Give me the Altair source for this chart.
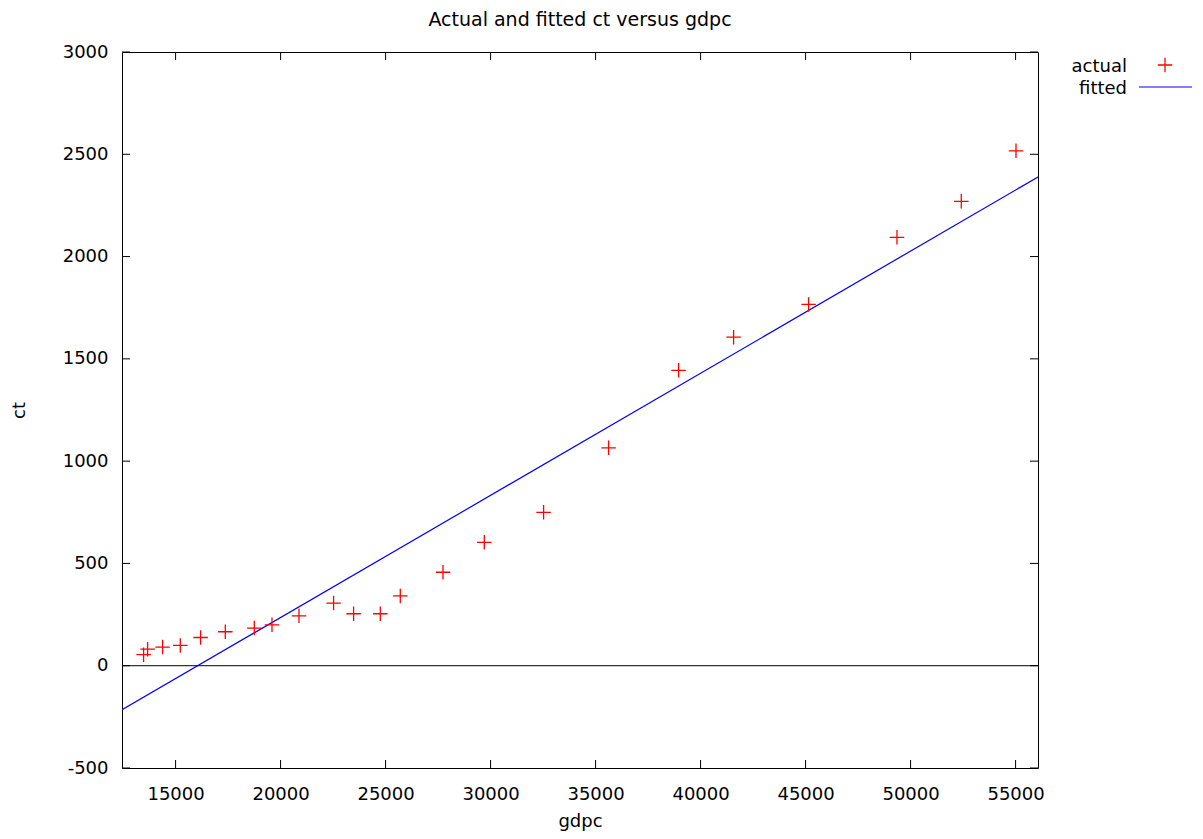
import altair as alt
import pandas as pd

# ---- data ----
gdpc = [13476, 13667, 14381, 15224, 16190, 17367, 18748, 19590, 20876, 22524, 23476,
        24748, 25700, 27733, 29700, 32524, 35619, 38952, 41571, 45143, 49352, 52414, 55019]
ct = [54, 81, 91, 99, 138, 166, 184, 200, 244, 306, 254,
      254, 341, 457, 603, 750, 1065, 1444, 1606, 1766, 2094, 2270, 2517]
fit_x = [12448, 56067]
fit_y = [-215, 2389]
x_ticks = [15000, 20000, 25000, 30000, 35000, 40000, 45000, 50000, 55000]
y_ticks = [-500, 0, 500, 1000, 1500, 2000, 2500, 3000]
x_domain = [12448, 56067]
y_domain = [-500, 3000]
legend_labels = ["actual", "fitted"]

W, H = 916, 716
FONT = "DejaVu Sans"
FS = 18
TL = 8  # inward tick length

xs = alt.Scale(domain=x_domain, nice=False, zero=False)
ys = alt.Scale(domain=y_domain, nice=False, zero=False)

pts = pd.DataFrame({"gdpc": gdpc, "ct": ct})
fit = pd.DataFrame({"gdpc": fit_x, "ct": fit_y})
xt = pd.DataFrame({"v": x_ticks})
yt = pd.DataFrame({"v": y_ticks})

plus = "M-1,0L1,0M0,-1L0,1"

xaxis = alt.Axis(values=x_ticks, ticks=False, domain=False, grid=False, labelPadding=17,
                 labelExpr="'' + datum.value",
                 labelFont=FONT, labelFontSize=FS, labelColor="black",
                 titleFont=FONT, titleFontSize=FS, titleFontWeight="normal", titleColor="black",
                 titleY=58, titleBaseline="alphabetic")
yaxis = alt.Axis(values=y_ticks, ticks=False, domain=False, grid=False, labelPadding=14,
                 labelExpr="'' + datum.value",
                 labelFont=FONT, labelFontSize=FS, labelColor="black",
                 titleFont=FONT, titleFontSize=FS, titleFontWeight="normal", titleColor="black",
                 titleX=-103, titleY=H / 2, titleBaseline="middle", titleAngle=-90)

base_axes = alt.Chart(pts).mark_point(opacity=0).encode(
    x=alt.X("gdpc:Q", scale=xs, axis=xaxis, title="gdpc"),
    y=alt.Y("ct:Q", scale=ys, axis=yaxis, title="ct"),
)

zero_line = alt.Chart(pd.DataFrame({"ct": [0]})).mark_rule(color="black", strokeWidth=1).encode(
    y=alt.Y("ct:Q", scale=ys), x=alt.value(0), x2=alt.value(W))

fit_line = alt.Chart(fit).mark_line(color="#0000ff", strokeWidth=1.2, clip=True).encode(
    x=alt.X("gdpc:Q", scale=xs), y=alt.Y("ct:Q", scale=ys))

points = alt.Chart(pts).mark_point(shape=plus, size=210, color="#ff0000", strokeWidth=1.3,
                                    filled=False, opacity=1).encode(
    x=alt.X("gdpc:Q", scale=xs), y=alt.Y("ct:Q", scale=ys))

tick_style = dict(color="black", strokeWidth=1)
xt_bottom = alt.Chart(xt).mark_rule(**tick_style).encode(
    x=alt.X("v:Q", scale=xs), y=alt.value(H), y2=alt.value(H - TL))
xt_top = alt.Chart(xt).mark_rule(**tick_style).encode(
    x=alt.X("v:Q", scale=xs), y=alt.value(0), y2=alt.value(TL))
yt_left = alt.Chart(yt).mark_rule(**tick_style).encode(
    y=alt.Y("v:Q", scale=ys), x=alt.value(0), x2=alt.value(TL))
yt_right = alt.Chart(yt).mark_rule(**tick_style).encode(
    y=alt.Y("v:Q", scale=ys), x=alt.value(W), x2=alt.value(W - TL))

# legend (gnuplot style: label on the left, key on the right)
leg_actual_t = alt.Chart(pd.DataFrame({"t": [legend_labels[0]]})).mark_text(
    align="right", baseline="middle", font=FONT, fontSize=FS, color="black").encode(
    text="t:N", x=alt.value(1005), y=alt.value(15))
leg_fitted_t = alt.Chart(pd.DataFrame({"t": [legend_labels[1]]})).mark_text(
    align="right", baseline="middle", font=FONT, fontSize=FS, color="black").encode(
    text="t:N", x=alt.value(1005), y=alt.value(37))
leg_actual_k = alt.Chart(pd.DataFrame({"t": [legend_labels[0]]})).mark_point(
    shape=plus, size=210, color="#ff0000", strokeWidth=1.3, opacity=1).encode(
    x=alt.value(1043), y=alt.value(13))
leg_fitted_k = alt.Chart(pd.DataFrame({"t": [legend_labels[1]]})).mark_rule(
    color="#0000ff", strokeWidth=1.2).encode(
    x=alt.value(1017), x2=alt.value(1070), y=alt.value(35))

chart = alt.layer(
    base_axes, zero_line, fit_line, points,
    xt_bottom, xt_top, yt_left, yt_right,
    leg_actual_t, leg_fitted_t, leg_actual_k, leg_fitted_k,
).properties(
    width=W, height=H,
    title=alt.TitleParams("Actual and fitted ct versus gdpc", font=FONT, fontSize=19,
                          fontWeight="normal", color="black", anchor="middle", offset=13),
    autosize=alt.AutoSizeParams(type="none"),
    padding={"left": 114, "top": 44, "right": 157, "bottom": 63},
).configure(
    background="white",
    view=alt.ViewConfig(stroke="black", strokeWidth=1),
)

chart.save("out.html", embed_options={"renderer": "svg", "actions": False})
